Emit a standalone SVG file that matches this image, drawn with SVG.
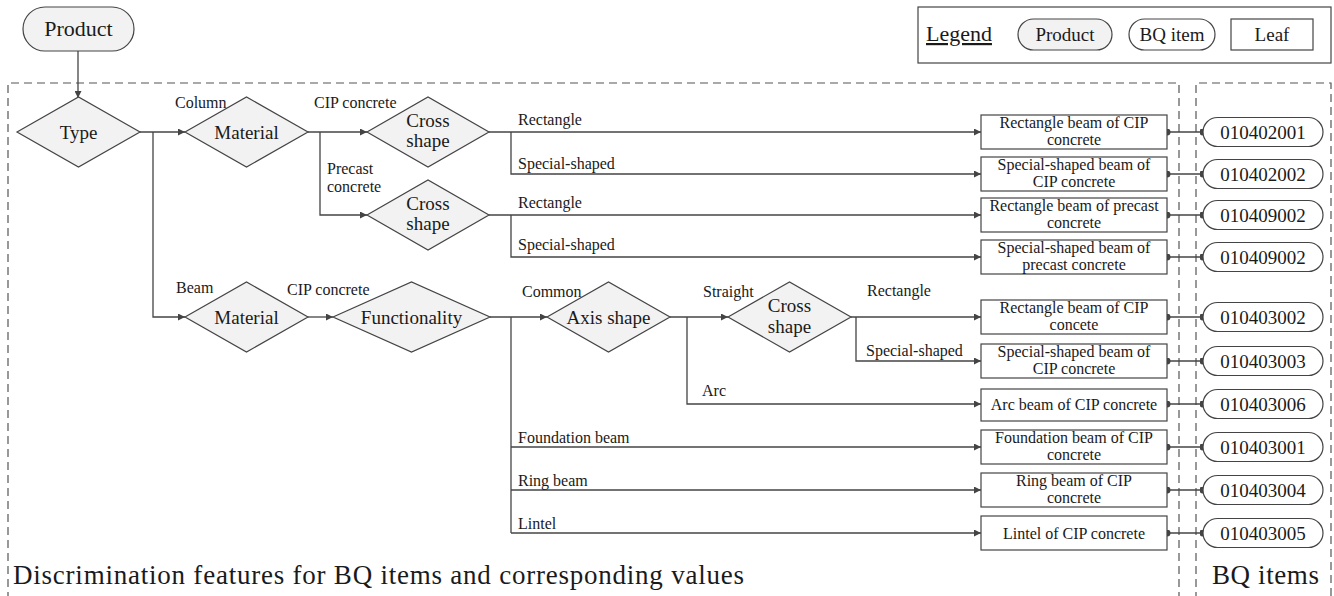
<svg xmlns="http://www.w3.org/2000/svg" width="1334" height="596" viewBox="0 0 1334 596">
  <style>
    text { font-family: "Liberation Serif", "Times New Roman", "DejaVu Serif", serif; fill: #1a1a1a; }
    .dec { fill: #f2f2f2; stroke: #444; stroke-width: 1.2; }
    .leaf { fill: #fff; stroke: #444; stroke-width: 1.2; }
    .bq { fill: #fff; stroke: #444; stroke-width: 1.2; }
    .prod { fill: #f2f2f2; stroke: #444; stroke-width: 1.2; }
    .frame { fill: none; stroke: #555; stroke-width: 1.2; stroke-dasharray: 8 5; }
    .edge { fill: none; stroke: #444; stroke-width: 1.3; }
    .arr { marker-end: url(#ah); }
    .lnk { fill: none; stroke: #444; stroke-width: 1.3; marker-start: url(#dot); marker-end: url(#dot); }
    .nl { font-size: 19px; text-anchor: middle; }
    .el { font-size: 16px; }
    .lt { font-size: 16px; text-anchor: middle; }
    .bt { font-size: 19px; text-anchor: middle; }
  </style>
  <defs>
    <marker id="ah" viewBox="0 0 10 10" refX="10" refY="5" markerWidth="8" markerHeight="7" markerUnits="userSpaceOnUse" orient="auto">
      <path d="M0,0 L10,5 L0,10 z" fill="#444"/>
    </marker>
    <marker id="dot" viewBox="0 0 10 10" refX="5" refY="5" markerWidth="7" markerHeight="7" markerUnits="userSpaceOnUse">
      <circle cx="5" cy="5" r="5" fill="#444"/>
    </marker>
  </defs>

  <!-- dashed frames with their captions -->
  <g id="frames">
    <path class="frame" d="M8,600 V83 H1179 V600"/>
    <path class="frame" d="M1196,600 V83 H1331 V600"/>
    <text x="13" y="584" font-size="27" textLength="731" lengthAdjust="spacing">Discrimination features for BQ items and corresponding values</text>
    <text x="1212" y="584" font-size="27" textLength="107" lengthAdjust="spacing">BQ items</text>
  </g>

  <!-- legend -->
  <g id="legend">
    <rect x="918" y="7" width="413" height="56" fill="#fff" stroke="#444" stroke-width="1.2"/>
    <text x="926" y="41" font-size="22" text-decoration="underline">Legend</text>
    <rect class="prod" x="1018" y="19" width="94" height="31" rx="15.5"/>
    <text class="bt" x="1065" y="41">Product</text>
    <rect class="bq" x="1129" y="19" width="86" height="31" rx="15.5"/>
    <text class="bt" x="1172" y="41">BQ item</text>
    <rect class="leaf" x="1231" y="19" width="82" height="31"/>
    <text class="bt" x="1272" y="41">Leaf</text>
  </g>

  <!-- connectors -->
  <g id="connectors">
    <path class="edge arr" d="M78,51 V98"/>
    <path class="edge arr" d="M140,132 H185"/>
    <path class="edge arr" d="M153,132 V317 H185"/>
    <path class="edge arr" d="M308,132 H367"/>
    <path class="edge arr" d="M320,132 V215 H367"/>
    <path class="edge arr" d="M489,132 H981"/>
    <path class="edge arr" d="M511,132 V174 H981"/>
    <path class="edge arr" d="M489,215 H981"/>
    <path class="edge arr" d="M511,215 V257 H981"/>
    <path class="edge arr" d="M308,317 H333"/>
    <path class="edge arr" d="M490,317 H547"/>
    <path class="edge" d="M511,317 V533"/>
    <path class="edge arr" d="M511,447 H981"/>
    <path class="edge arr" d="M511,490 H981"/>
    <path class="edge arr" d="M511,533 H981"/>
    <path class="edge arr" d="M670,317 H728"/>
    <path class="edge arr" d="M687,317 V404 H981"/>
    <path class="edge arr" d="M851,317 H981"/>
    <path class="edge arr" d="M856,317 V361 H981"/>
    <!-- leaf to BQ item links -->
    <path class="lnk" d="M1167,132 H1203"/>
    <path class="lnk" d="M1167,174 H1203"/>
    <path class="lnk" d="M1167,215 H1203"/>
    <path class="lnk" d="M1167,257 H1203"/>
    <path class="lnk" d="M1167,317 H1203"/>
    <path class="lnk" d="M1167,361 H1203"/>
    <path class="lnk" d="M1167,404 H1203"/>
    <path class="lnk" d="M1167,447 H1203"/>
    <path class="lnk" d="M1167,490 H1203"/>
    <path class="lnk" d="M1167,533 H1203"/>
    <!-- branch labels -->
    <text class="el" x="175" y="108">Column</text>
    <text class="el" x="176" y="293">Beam</text>
    <text class="el" x="314" y="108">CIP concrete</text>
    <text class="el" x="327" y="174">Precast</text>
    <text class="el" x="327" y="192">concrete</text>
    <text class="el" x="518" y="125">Rectangle</text>
    <text class="el" x="518" y="169">Special-shaped</text>
    <text class="el" x="518" y="208">Rectangle</text>
    <text class="el" x="518" y="250">Special-shaped</text>
    <text class="el" x="287" y="295">CIP concrete</text>
    <text class="el" x="522" y="297">Common</text>
    <text class="el" x="703" y="297">Straight</text>
    <text class="el" x="867" y="296">Rectangle</text>
    <text class="el" x="866" y="356">Special-shaped</text>
    <text class="el" x="702" y="396">Arc</text>
    <text class="el" x="518" y="443">Foundation beam</text>
    <text class="el" x="518" y="486">Ring beam</text>
    <text class="el" x="518" y="529">Lintel</text>
  </g>

  <!-- root -->
  <g id="product">
    <rect class="prod" x="23" y="7" width="111" height="44" rx="22"/>
    <text x="78.5" y="36" font-size="22" text-anchor="middle">Product</text>
  </g>

  <!-- decision nodes -->
  <g id="type">
    <polygon class="dec" points="17,132 78.5,97 140,132 78.5,167"/>
    <text class="nl" x="78.5" y="138.5">Type</text>
  </g>
  <g id="material-column">
    <polygon class="dec" points="185,132 246.5,97 308,132 246.5,167"/>
    <text class="nl" x="246.5" y="138.5">Material</text>
  </g>
  <g id="cross-cip">
    <polygon class="dec" points="367,132 428,97 489,132 428,167"/>
    <text class="nl" x="428" y="127">Cross</text>
    <text class="nl" x="428" y="147">shape</text>
  </g>
  <g id="cross-precast">
    <polygon class="dec" points="367,215 428,180 489,215 428,250"/>
    <text class="nl" x="428" y="210">Cross</text>
    <text class="nl" x="428" y="230">shape</text>
  </g>
  <g id="material-beam">
    <polygon class="dec" points="185,317 246.5,282 308,317 246.5,352"/>
    <text class="nl" x="246.5" y="323.5">Material</text>
  </g>
  <g id="functionality">
    <polygon class="dec" points="333,317 411.5,282 490,317 411.5,352"/>
    <text class="nl" x="411.5" y="323.5">Functionality</text>
  </g>
  <g id="axis-shape">
    <polygon class="dec" points="547,317 608.5,282 670,317 608.5,352"/>
    <text class="nl" x="608.5" y="323.5">Axis shape</text>
  </g>
  <g id="cross-straight">
    <polygon class="dec" points="728,317 789.5,282 851,317 789.5,352"/>
    <text class="nl" x="789.5" y="312">Cross</text>
    <text class="nl" x="789.5" y="333">shape</text>
  </g>

  <!-- leaves -->
  <g id="leaf-1">
    <rect class="leaf" x="981" y="115" width="186" height="34"/>
    <text class="lt" x="1074" y="128">Rectangle beam of CIP</text>
    <text class="lt" x="1074" y="145">concrete</text>
  </g>
  <g id="leaf-2">
    <rect class="leaf" x="981" y="157" width="186" height="34"/>
    <text class="lt" x="1074" y="170">Special-shaped beam of</text>
    <text class="lt" x="1074" y="187">CIP concrete</text>
  </g>
  <g id="leaf-3">
    <rect class="leaf" x="981" y="198" width="186" height="34"/>
    <text class="lt" x="1074" y="211">Rectangle beam of precast</text>
    <text class="lt" x="1074" y="228">concrete</text>
  </g>
  <g id="leaf-4">
    <rect class="leaf" x="981" y="240" width="186" height="34"/>
    <text class="lt" x="1074" y="253">Special-shaped beam of</text>
    <text class="lt" x="1074" y="270">precast concrete</text>
  </g>
  <g id="leaf-5">
    <rect class="leaf" x="981" y="300" width="186" height="34"/>
    <text class="lt" x="1074" y="313">Rectangle beam of CIP</text>
    <text class="lt" x="1074" y="330">concete</text>
  </g>
  <g id="leaf-6">
    <rect class="leaf" x="981" y="344" width="186" height="34"/>
    <text class="lt" x="1074" y="357">Special-shaped beam of</text>
    <text class="lt" x="1074" y="374">CIP concrete</text>
  </g>
  <g id="leaf-7">
    <rect class="leaf" x="981" y="389" width="186" height="32"/>
    <text class="lt" x="1074" y="410">Arc beam of CIP concrete</text>
  </g>
  <g id="leaf-8">
    <rect class="leaf" x="981" y="430" width="186" height="34"/>
    <text class="lt" x="1074" y="443">Foundation beam of CIP</text>
    <text class="lt" x="1074" y="460">concrete</text>
  </g>
  <g id="leaf-9">
    <rect class="leaf" x="981" y="473" width="186" height="34"/>
    <text class="lt" x="1074" y="486">Ring beam of CIP</text>
    <text class="lt" x="1074" y="503">concrete</text>
  </g>
  <g id="leaf-10">
    <rect class="leaf" x="981" y="516" width="186" height="34"/>
    <text class="lt" x="1074" y="538.5">Lintel of CIP concrete</text>
  </g>

  <!-- BQ items -->
  <g id="bq-010402001"><rect class="bq" x="1203" y="117.5" width="120" height="29" rx="14.5"/><text class="bt" x="1263" y="138.5">010402001</text></g>
  <g id="bq-010402002"><rect class="bq" x="1203" y="159.5" width="120" height="29" rx="14.5"/><text class="bt" x="1263" y="180.5">010402002</text></g>
  <g id="bq-010409002a"><rect class="bq" x="1203" y="200.5" width="120" height="29" rx="14.5"/><text class="bt" x="1263" y="221.5">010409002</text></g>
  <g id="bq-010409002b"><rect class="bq" x="1203" y="242.5" width="120" height="29" rx="14.5"/><text class="bt" x="1263" y="263.5">010409002</text></g>
  <g id="bq-010403002"><rect class="bq" x="1203" y="302.5" width="120" height="29" rx="14.5"/><text class="bt" x="1263" y="323.5">010403002</text></g>
  <g id="bq-010403003"><rect class="bq" x="1203" y="346.5" width="120" height="29" rx="14.5"/><text class="bt" x="1263" y="367.5">010403003</text></g>
  <g id="bq-010403006"><rect class="bq" x="1203" y="389.5" width="120" height="29" rx="14.5"/><text class="bt" x="1263" y="410.5">010403006</text></g>
  <g id="bq-010403001"><rect class="bq" x="1203" y="432.5" width="120" height="29" rx="14.5"/><text class="bt" x="1263" y="453.5">010403001</text></g>
  <g id="bq-010403004"><rect class="bq" x="1203" y="475.5" width="120" height="29" rx="14.5"/><text class="bt" x="1263" y="496.5">010403004</text></g>
  <g id="bq-010403005"><rect class="bq" x="1203" y="518.5" width="120" height="29" rx="14.5"/><text class="bt" x="1263" y="539.5">010403005</text></g>
</svg>
